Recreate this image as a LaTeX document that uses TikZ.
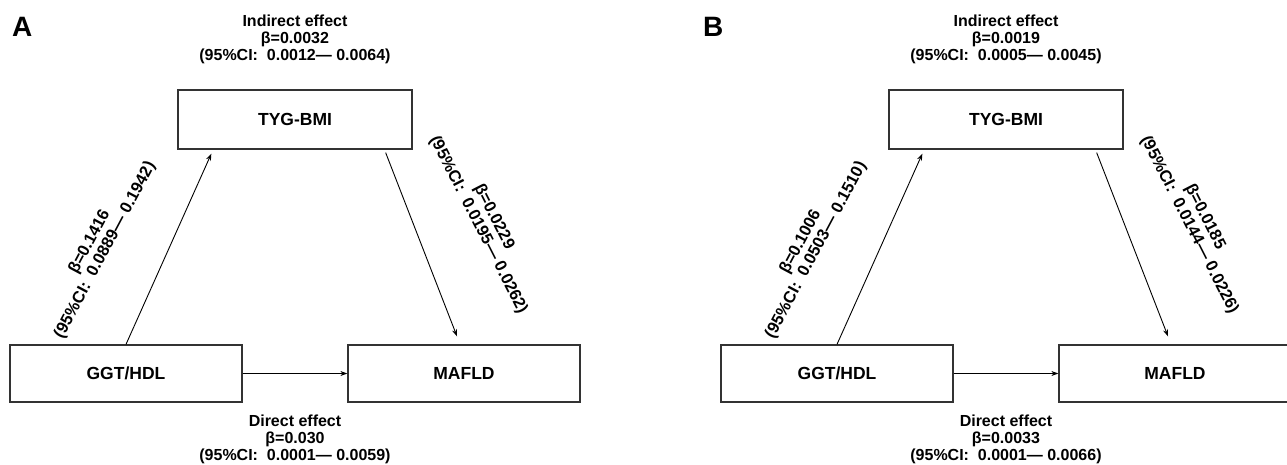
\documentclass[tikz,border=0pt]{standalone}
\usepackage{fontspec}
\setmainfont{Liberation Sans}
\usetikzlibrary{arrows.meta}
\begin{document}
\begin{tikzpicture}[x=1pt,y=-1pt,
  box/.style={draw=black!80, line width=1.3pt, minimum width=232pt, minimum height=57pt, inner sep=0pt, font=\fontsize{17.5}{20}\selectfont\bfseries},
  topbox/.style={box, minimum width=234pt, minimum height=59pt},
  lbl/.style={align=center, inner sep=0pt, font=\fontsize{16}{17}\selectfont\bfseries},
  rlbl/.style={align=center, inner sep=0pt, font=\fontsize{16.5}{17.5}\selectfont\bfseries},
  arr/.style={draw=black, line width=0.9pt, -{Stealth[length=7pt,width=5pt]}},
  panellbl/.style={font=\fontsize{28}{30}\selectfont\bfseries, inner sep=0pt, anchor=base west}]
\useasboundingbox (0,0) rectangle (1287,464);

% ---------- Panel A ----------
\node[panellbl] (pA) at (12,36) {A};
\node[topbox] (tygA) at (295,119.5) {TYG-BMI};
\node[box] (ggtA) at (126,373.5) {GGT/HDL};
\node[box] (mafA) at (464,373.5) {MAFLD};
\draw[arr] (ggtA.north) -- ([xshift=34pt,yshift=-4pt]tygA.south west);
\draw[arr] ([xshift=-27pt,yshift=-3pt]tygA.south east) -- ([xshift=-7pt,yshift=8pt]mafA.north);
\draw[arr] (ggtA.east) -- (mafA.west);
\node[lbl] (indA) at (295,39) {Indirect effect\\β=0.0032\\(95\%CI:\ \ 0.0012— 0.0064)};
\node[lbl] (dirA) at (295,439) {Direct effect\\β=0.030\\(95\%CI:\ \ 0.0001— 0.0059)};
\node[rlbl, rotate=62] (lA) at (97.5,246) {β=0.1416\\(95\%CI:\ \ 0.0889— 0.1942)};
\node[rlbl, rotate=-63] (rA) at (486,221) {β=0.0229\\(95\%CI:\ \ 0.0195— 0.0262)};

% ---------- Panel B ----------
\node[panellbl] (pB) at (703,36) {B};
\node[topbox] (tygB) at (1006,119.5) {TYG-BMI};
\node[box] (ggtB) at (837,373.5) {GGT/HDL};
\node[box] (mafB) at (1175,373.5) {MAFLD};
\draw[arr] (ggtB.north) -- ([xshift=34pt,yshift=-4pt]tygB.south west);
\draw[arr] ([xshift=-27pt,yshift=-3pt]tygB.south east) -- ([xshift=-7pt,yshift=8pt]mafB.north);
\draw[arr] (ggtB.east) -- (mafB.west);
\node[lbl] (indB) at (1006,39) {Indirect effect\\β=0.0019\\(95\%CI:\ \ 0.0005— 0.0045)};
\node[lbl] (dirB) at (1006,439) {Direct effect\\β=0.0033\\(95\%CI:\ \ 0.0001— 0.0066)};
\node[rlbl, rotate=62] (lB) at (808.5,246) {β=0.1006\\(95\%CI:\ \ 0.0503— 0.1510)};
\node[rlbl, rotate=-63] (rB) at (1197,221) {β=0.0185\\(95\%CI:\ \ 0.0144— 0.0226)};
\end{tikzpicture}
\end{document}
